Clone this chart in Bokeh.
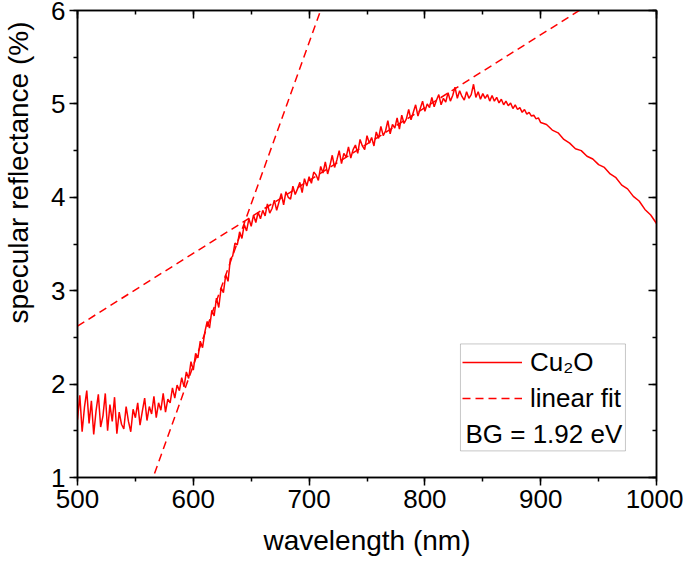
from bokeh.plotting import figure
from bokeh.models import (Range1d, LinearAxis, SingleIntervalTicker, Legend,
                          LegendItem, Label, BoxAnnotation, Title)
from bokeh.embed import file_html
from bokeh.resources import INLINE

# ---- data -----------------------------------------------------------------
wavelength = list(range(500, 902, 2)) + list(range(905, 1001, 5))
reflectance = [
    # 500-538
    1.62, 1.88, 1.49, 1.75, 1.93, 1.58, 1.82, 1.46, 1.71, 1.89,
    1.54, 1.66, 1.90, 1.50, 1.78, 1.60, 1.86, 1.47, 1.70, 1.57,
    # 540-578
    1.52, 1.76, 1.60, 1.49, 1.73, 1.64, 1.80, 1.56, 1.71, 1.85,
    1.61, 1.76, 1.68, 1.87, 1.64, 1.80, 1.72, 1.90, 1.70, 1.84,
    # 580-618
    1.80, 1.96, 1.85, 1.99, 1.93, 2.07, 1.97, 2.13, 2.06, 2.24,
    2.15, 2.33, 2.28, 2.46, 2.39, 2.56, 2.67, 2.60, 2.79, 2.73,
    # 620-658
    2.92, 2.82, 3.03, 2.98, 3.17, 3.10, 3.34, 3.37, 3.51, 3.49,
    3.63, 3.56, 3.71, 3.64, 3.77, 3.69, 3.81, 3.73, 3.84, 3.77,
    # 660-698
    3.86, 3.80, 3.93, 3.83, 3.88, 3.97, 3.86, 3.95, 4.04, 3.92,
    4.06, 4.00, 3.98, 4.12, 4.03, 4.09, 4.16, 4.05, 4.20, 4.12,
    # 700-738
    4.22, 4.15, 4.27, 4.24, 4.18, 4.33, 4.26, 4.38, 4.25, 4.34,
    4.45, 4.32, 4.40, 4.50, 4.36, 4.47, 4.43, 4.54, 4.42, 4.51,
    # 740-778
    4.56, 4.47, 4.62, 4.55, 4.51, 4.66, 4.58, 4.64, 4.55, 4.70,
    4.63, 4.76, 4.66, 4.71, 4.82, 4.68, 4.78, 4.74, 4.85, 4.73,
    # 780-818
    4.88, 4.79, 4.84, 4.94, 4.83, 4.91, 4.99, 4.87, 4.95, 5.03,
    4.92, 5.00, 4.96, 5.07, 4.97, 5.04, 5.10, 4.99, 5.06, 5.02,
    # 820-858
    5.12, 5.03, 5.09, 5.18, 5.06, 5.14, 5.08, 5.04, 5.13, 5.06,
    5.10, 5.21, 5.07, 5.13, 5.05, 5.11, 5.06, 5.10, 5.03, 5.09,
    # 860-898
    5.03, 5.07, 5.01, 5.05, 4.99, 5.03, 4.98, 5.01, 4.95, 4.99,
    4.94, 4.96, 4.91, 4.94, 4.89, 4.91, 4.87, 4.88, 4.84, 4.85,
    # 900
    4.80,
    # 905-1000
    4.78, 4.72, 4.69, 4.62, 4.58, 4.52, 4.50, 4.44, 4.41, 4.35,
    4.32, 4.25, 4.21, 4.13, 4.09, 4.01, 3.96, 3.87, 3.81, 3.72,
]
assert len(wavelength) == len(reflectance)

# linear fits (end points of fitted lines, clipped by the axes)
fit_shallow_x = [500, 1000]
fit_shallow_y = [2.62, 6.52]
fit_steep_x = [540, 740]
fit_steep_y = [0.125, 7.04]

FONT = "Liberation Sans"
RED = "#ff0000"

p = figure(width=683, height=558, x_range=Range1d(500, 1000), y_range=Range1d(1, 6),
           output_backend="svg", toolbar_location=None,
           min_border_left=77, min_border_right=27, min_border_top=10, min_border_bottom=81,
           x_axis_label="wavelength (nm)", y_axis_label=" ")
p.xgrid.visible = False
p.ygrid.visible = False
p.outline_line_color = "black"
p.outline_line_width = 1.5
p.background_fill_color = "white"
p.border_fill_color = "white"

p.xaxis.ticker = SingleIntervalTicker(interval=100, num_minor_ticks=2)
p.yaxis.ticker = SingleIntervalTicker(interval=1, num_minor_ticks=2)

for ax in (p.xaxis[0], p.yaxis[0]):
    ax.axis_line_width = 1.5
    ax.major_tick_line_width = 1.5
    ax.minor_tick_line_width = 1.5
    ax.major_tick_in = 0
    ax.major_tick_out = 8
    ax.minor_tick_in = 0
    ax.minor_tick_out = 4
    ax.major_label_text_font = FONT
    ax.major_label_text_font_size = "26px"
    ax.major_label_text_color = "black"
    ax.axis_label_text_font = FONT
    ax.axis_label_text_font_size = "28px"
    ax.axis_label_text_font_style = "normal"
    ax.axis_label_text_color = "black"
    ax.major_label_standoff = 4
p.xaxis.axis_label_standoff = 14
# spacer label on the y axis pushes the (top-aligned) y title further left
p.yaxis.axis_label_text_font_size = "1px"
p.yaxis.axis_label_standoff = 10

for loc, interval in (("above", 100), ("right", 1)):
    ax = LinearAxis(ticker=SingleIntervalTicker(interval=interval, num_minor_ticks=2),
                    major_label_text_font_size="0px", major_label_standoff=0,
                    major_tick_in=8, major_tick_out=0, minor_tick_in=4, minor_tick_out=0,
                    axis_line_width=1.5, major_tick_line_width=1.5, minor_tick_line_width=1.5)
    p.add_layout(ax, loc)

# y-axis title, placed toward the top like the original
ytitle = Title(text="specular reflectance (%)", align="right", offset=11, standoff=0,
               text_font=FONT, text_font_size="28px", text_font_style="normal",
               text_color="black")
p.add_layout(ytitle, "left")

r_fit1 = p.line(fit_shallow_x, fit_shallow_y, line_color=RED, line_width=1.5, line_dash="8 5")
r_fit2 = p.line(fit_steep_x, fit_steep_y, line_color=RED, line_width=1.5, line_dash="8 5")
r_data = p.line(wavelength, reflectance, line_color=RED, line_width=1.5)

box = BoxAnnotation(left=830.7, right=973.2, top=2.43, bottom=1.285,
                    fill_alpha=0, line_color="#444444", line_width=1)
p.add_layout(box)

legend = Legend(items=[LegendItem(label="Cu₂O", renderers=[r_data]),
                       LegendItem(label="linear fit", renderers=[r_fit1])],
                location=(385, 61), padding=0, margin=0, spacing=0,
                glyph_width=60, glyph_height=36, label_height=36, label_standoff=8,
                label_text_font=FONT, label_text_font_size="26px", label_text_color="black",
                border_line_alpha=0, background_fill_alpha=0)
p.add_layout(legend)

p.add_layout(Label(x=835, y=1.467, text="BG = 1.92 eV", text_baseline="middle",
                   text_font=FONT, text_font_size="26px", text_color="black"))

open("out.html", "w").write(file_html(p, INLINE))
